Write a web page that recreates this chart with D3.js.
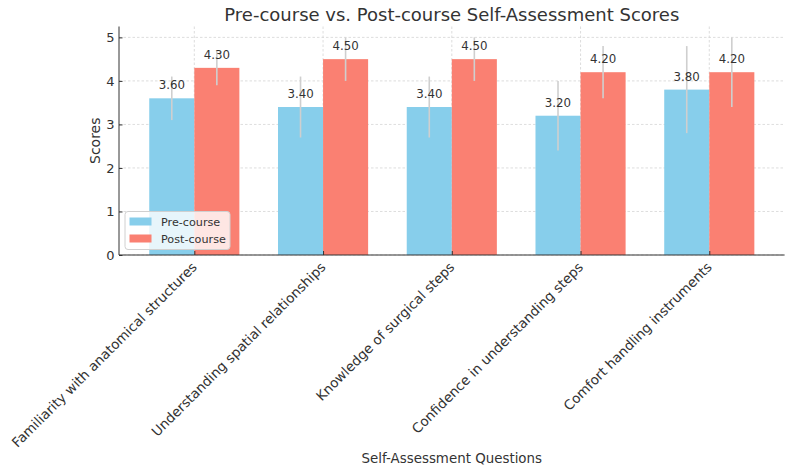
<!DOCTYPE html>
<html>
<head>
<meta charset="utf-8">
<script src="https://cdnjs.cloudflare.com/ajax/libs/d3/7.8.5/d3.min.js"></script>
<style>
  body { margin: 0; background: #fff; }
  text { font-family: "DejaVu Sans", sans-serif; fill: #333; }
</style>
</head>
<body>
<svg id="chart"></svg>
<script>
let questions = [
    'Familiarity with anatomical structures',
    'Understanding spatial relationships',
    'Knowledge of surgical steps',
    'Confidence in understanding steps',
    'Comfort handling instruments',
]
let preScores = [3.6, 3.4, 3.4, 3.2, 3.8]
let postScores = [4.3, 4.5, 4.5, 4.2, 4.2]
let preErrors = [0.5, 0.7, 0.7, 0.8, 1.0]
let postErrors = [0.4, 0.5, 0.5, 0.6, 0.8]
let yTicks = [0, 1, 2, 3, 4, 5]

let opts = {
    width: 790,
    height: 468,
    left: 119,
    right: 784.6,
    top: 26.5,
    bottom: 255,
    barWidth: 0.35,
}

let svg = d3.select('#chart')
    .attr('width', opts.width)
    .attr('height', opts.height)

let x = d3.scaleLinear()
    .domain([-0.585, questions.length - 1 + 0.585])
    .range([opts.left, opts.right])
let y = d3.scaleLinear()
    .domain([0, 5.25])
    .range([opts.bottom, opts.top])

let series = [
    { name: 'Pre-course', values: preScores, errors: preErrors, color: '#87CEEB', shift: -opts.barWidth / 2 },
    { name: 'Post-course', values: postScores, errors: postErrors, color: '#FA8072', shift: opts.barWidth / 2 },
]

// grid
let grid = svg.append('g')
grid.selectAll('.hgrid').data(yTicks).enter().append('line')
    .attr('x1', opts.left).attr('x2', opts.right)
    .attr('y1', d => y(d)).attr('y2', d => y(d))
    .attr('stroke', '#d4d4d4').attr('stroke-width', 0.8)
    .attr('stroke-dasharray', '2.5,2')
grid.selectAll('.vgrid').data(questions.map((q, i) => i)).enter().append('line')
    .attr('x1', d => x(d)).attr('x2', d => x(d))
    .attr('y1', opts.top).attr('y2', opts.bottom)
    .attr('stroke', '#d4d4d4').attr('stroke-width', 0.8)
    .attr('stroke-dasharray', '2.5,2')

// bars, error bars, labels
series.forEach(s => {
    let g = svg.append('g')
    let pts = s.values.map((v, i) => ({ i: i, v: v, e: s.errors[i] }))
    g.selectAll('rect').data(pts).enter().append('rect')
        .attr('x', d => x(d.i + s.shift - opts.barWidth / 2))
        .attr('width', x(opts.barWidth) - x(0))
        .attr('y', d => y(d.v))
        .attr('height', d => y(0) - y(d.v))
        .attr('fill', s.color)
    g.selectAll('line').data(pts).enter().append('line')
        .attr('x1', d => x(d.i + s.shift)).attr('x2', d => x(d.i + s.shift))
        .attr('y1', d => y(d.v - d.e)).attr('y2', d => y(d.v + d.e))
        .attr('stroke', '#cfcfcf').attr('stroke-width', 1.6)
    g.selectAll('text').data(pts).enter().append('text')
        .attr('x', d => x(d.i + s.shift))
        .attr('y', d => y(d.v) - 9)
        .attr('text-anchor', 'middle')
        .attr('font-size', 11.8)
        .text(d => d.v.toFixed(2))
})

// axes
let yAxis = svg.append('g')
    .attr('transform', `translate(${opts.left},0)`)
    .call(d3.axisLeft(y).tickValues(yTicks).tickSize(-3.5).tickPadding(4.5).tickFormat(d3.format('d')))
yAxis.select('.domain').remove()
yAxis.selectAll('line').attr('stroke', '#333')
yAxis.selectAll('text').attr('font-size', 13).attr('fill', '#333')
yAxis.append('line')
    .attr('y1', opts.top).attr('y2', opts.bottom)
    .attr('stroke', '#333').attr('stroke-width', 1)

let xAxis = svg.append('g')
    .attr('transform', `translate(0,${opts.bottom})`)
    .call(d3.axisBottom(x).tickValues(questions.map((q, i) => i)).tickSize(-4).tickFormat(i => questions[i]))
xAxis.select('.domain').remove()
xAxis.selectAll('line').attr('stroke', '#333')
xAxis.append('line')
    .attr('x1', opts.left).attr('x2', opts.right)
    .attr('stroke', '#333').attr('stroke-width', 1)
xAxis.selectAll('text')
    .attr('font-size', 13.5)
    .attr('fill', '#333')
    .attr('text-anchor', 'end')
    .attr('dy', 0)
    .attr('y', 0)
    .attr('transform', 'translate(3,13) rotate(-45)')

// titles
svg.append('text')
    .attr('x', (opts.left + opts.right) / 2)
    .attr('y', 21)
    .attr('text-anchor', 'middle')
    .attr('font-size', 18)
    .text('Pre-course vs. Post-course Self-Assessment Scores')
svg.append('text')
    .attr('x', (opts.left + opts.right) / 2)
    .attr('y', 463)
    .attr('text-anchor', 'middle')
    .attr('font-size', 13.4)
    .text('Self-Assessment Questions')
svg.append('text')
    .attr('transform', `translate(100,${(opts.top + opts.bottom) / 2}) rotate(-90)`)
    .attr('text-anchor', 'middle')
    .attr('font-size', 14)
    .text('Scores')

// legend
let legend = svg.append('g').attr('transform', 'translate(125,211.5)')
legend.append('rect')
    .attr('width', 105).attr('height', 38).attr('rx', 3)
    .attr('fill', 'white').attr('fill-opacity', 0.8)
    .attr('stroke', '#d0d0d0').attr('stroke-width', 1)
let items = legend.selectAll('.item').data(series).enter().append('g')
    .attr('transform', (d, i) => `translate(0,${6 + i * 17})`)
items.append('rect')
    .attr('x', 4.5).attr('width', 22).attr('height', 8)
    .attr('fill', d => d.color)
items.append('text')
    .attr('x', 36).attr('y', 8.5)
    .attr('font-size', 11.2)
    .text(d => d.name)
</script>
</body>
</html>
